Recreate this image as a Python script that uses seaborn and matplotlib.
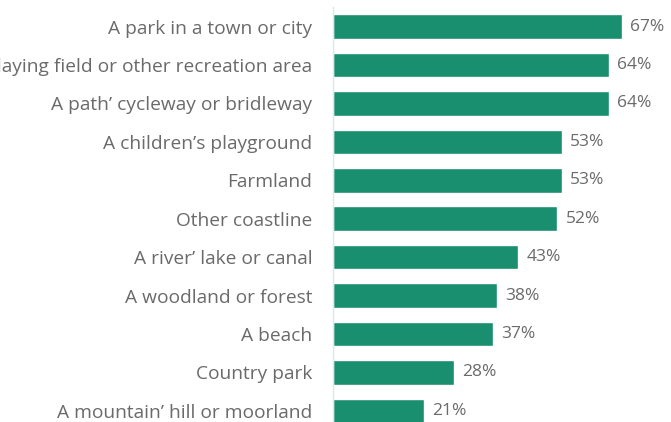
import matplotlib
matplotlib.use("Agg")
from matplotlib import pyplot as plt
import pandas as pd
import seaborn as sns

places = [
    "A park in a town or city",
    "A playing field or other recreation area",
    "A path’ cycleway or bridleway",
    "A children’s playground",
    "Farmland",
    "Other coastline",
    "A river’ lake or canal",
    "A woodland or forest",
    "A beach",
    "Country park",
    "A mountain’ hill or moorland",
]
share = [67, 64, 64, 53, 53, 52, 43, 38, 37, 28, 21]

df = pd.DataFrame({"place": places, "share": share})

sns.set_style("white")
plt.rcParams["font.family"] = ["Open Sans", "DejaVu Sans"]

fig = plt.figure(figsize=(6.71, 4.22), dpi=100)
ax = fig.add_axes([0.4963, -0.019, 0.5037, 1.0017])

sns.barplot(data=df, x="share", y="place", color="#1a8f6f", width=0.64,
            saturation=1, ax=ax)

ax.set_xlim(0, 78.4)
ax.set_ylim(10.5, -0.5)
ax.set_xlabel("")
ax.set_ylabel("")
ax.set_xticks([])

# the long label runs off the left edge, as in the source image
ax.tick_params(axis="y", length=0, pad=15, labelsize=13.8, labelcolor="#6a6a6a")

for i, v in enumerate(share):
    ax.text(v + 1.9, i, f"{v}%", va="center", ha="left", fontsize=12.5, color="#6a6a6a")

for side in ["top", "right", "bottom"]:
    ax.spines[side].set_visible(False)
ax.spines["left"].set_color("#d9e8e8")
ax.spines["left"].set_linewidth(1)

fig.savefig("out.png", dpi=100)
